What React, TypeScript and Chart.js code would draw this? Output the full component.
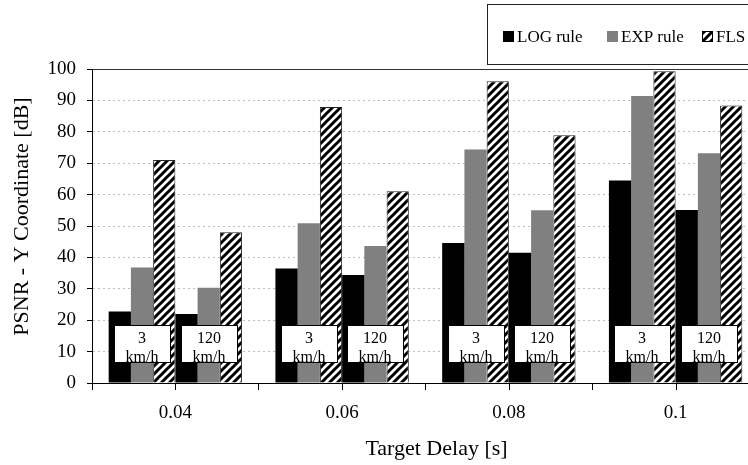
import { useEffect, useRef } from 'react';
import { Chart, registerables } from 'chart.js';

Chart.register(...registerables);

const categories = ['0.04', '0.06', '0.08', '0.1'];
const seriesNames = ['LOG rule', 'EXP rule', 'FLS'];
const speedTop = ['3', '120'];
const speedBottom = ['km/h', 'km/h'];
const logRule3 = [22.8, 36.5, 44.6, 64.5];
const expRule3 = [36.8, 50.9, 74.4, 91.4];
const fls3 = [71.0, 87.9, 96.1, 99.3];
const logRule120 = [22.0, 34.4, 41.5, 55.1];
const expRule120 = [30.3, 43.6, 55.0, 73.2];
const fls120 = [48.0, 61.1, 78.9, 88.4];
const yTitle = 'PSNR - Y Coordinate [dB]';
const xTitle = 'Target Delay [s]';

const FONT = '"Liberation Serif", "Times New Roman", serif';

function makeHatch(ctx: CanvasRenderingContext2D): CanvasPattern {
  const c = document.createElement('canvas');
  c.width = 8;
  c.height = 8;
  const g = c.getContext('2d')!;
  g.fillStyle = '#fff';
  g.fillRect(0, 0, 8, 8);
  g.strokeStyle = '#000';
  g.lineWidth = 3;
  g.beginPath();
  g.moveTo(-2, 2); g.lineTo(2, -2);
  g.moveTo(-2, 10); g.lineTo(10, -2);
  g.moveTo(6, 10); g.lineTo(10, 6);
  g.stroke();
  return ctx.createPattern(c, 'repeat')!;
}

const legendPlugin = {
  id: 'boxLegend',
  afterDraw(chart: any) {
    const ctx = chart.ctx as CanvasRenderingContext2D;
    ctx.save();
    ctx.strokeStyle = '#222';
    ctx.lineWidth = 1;
    ctx.strokeRect(487.5, 4.5, 320, 60);
    ctx.font = '17px ' + FONT;
    ctx.textBaseline = 'middle';
    ctx.textAlign = 'left';
    const markers = [503, 607, 702];
    const y = 36.5;
    for (let i = 0; i < 3; i++) {
      const x = markers[i];
      const ds = chart.data.datasets[i];
      ctx.fillStyle = ds.backgroundColor;
      ctx.fillRect(x, y - 5.5, 11, 11);
      if (i === 2) {
        ctx.strokeStyle = '#000';
        ctx.strokeRect(x + 0.5, y - 5, 10, 10);
      }
      ctx.fillStyle = '#000';
      ctx.fillText(seriesNames[i], x + 14, y + 1);
    }
    ctx.restore();
  },
};

const titlesPlugin = {
  id: 'axisTitles',
  afterDraw(chart: any) {
    const ctx = chart.ctx as CanvasRenderingContext2D;
    ctx.save();
    ctx.font = '22px ' + FONT;
    ctx.fillStyle = '#000';
    ctx.textAlign = 'center';
    ctx.textBaseline = 'middle';
    ctx.fillText(xTitle, 436.5, 449);
    ctx.translate(22, 216.5);
    ctx.rotate(-Math.PI / 2);
    ctx.fillText(yTitle, 0, 0);
    ctx.restore();
  },
};

const annotPlugin = {
  id: 'speedBoxes',
  afterDatasetsDraw(chart: any) {
    const ctx = chart.ctx as CanvasRenderingContext2D;
    const ys = chart.scales.y;
    const top = Math.round(ys.getPixelForValue(18.6)) + 0.5;
    const bot = Math.round(ys.getPixelForValue(6.7)) + 0.5;
    ctx.save();
    ctx.font = '16px ' + FONT;
    ctx.textAlign = 'center';
    ctx.textBaseline = 'middle';
    for (let s = 0; s < 2; s++) {
      const meta = chart.getDatasetMeta(s * 3 + 1);
      meta.data.forEach((bar: any) => {
        const cx = Math.round(bar.x);
        const w = 56;
        ctx.fillStyle = '#fff';
        ctx.fillRect(cx - w / 2, top, w, bot - top);
        ctx.fillStyle = '#000';
        ctx.fillText(speedTop[s], cx, top + 13);
        ctx.fillText(speedBottom[s], cx, top + 32);
        ctx.strokeStyle = '#000';
        ctx.lineWidth = 1;
        ctx.strokeRect(cx - w / 2 + 0.5, top, w, bot - top);
      });
    }
    ctx.restore();
  },
};

const centerTicks = {
  id: 'centerTicks',
  afterDraw(chart: any) {
    const ctx = chart.ctx as CanvasRenderingContext2D;
    const xs = chart.scales.x;
    const b = chart.chartArea.bottom;
    ctx.save();
    ctx.strokeStyle = '#000';
    ctx.lineWidth = 1;
    categories.forEach((_, i) => {
      const x = Math.round(xs.getPixelForValue(i)) + 0.5;
      ctx.beginPath();
      ctx.moveTo(x, b);
      ctx.lineTo(x, b + 7);
      ctx.stroke();
    });
    ctx.restore();
  },
};

export default function App() {
  const ref = useRef<HTMLCanvasElement | null>(null);
  useEffect(() => {
    const canvas = ref.current!;
    const ctx = canvas.getContext('2d')!;
    const hatch = makeHatch(ctx);
    const black = '#000000';
    const gray = '#808080';
    const mk = (label: string, data: number[], kind: number) => ({
      label,
      data,
      backgroundColor: kind === 0 ? black : kind === 1 ? gray : hatch,
      borderColor: kind === 2 ? '#222' : 'rgba(0,0,0,0)',
      borderWidth: kind === 2 ? 1 : 0,
      categoryPercentage: 0.8,
      barPercentage: 1.0,
    });
    const chart = new Chart(canvas, {
      type: 'bar',
      data: {
        labels: categories,
        datasets: [
          mk(seriesNames[0], logRule3, 0),
          mk(seriesNames[1], expRule3, 1),
          mk(seriesNames[2], fls3, 2),
          mk(seriesNames[0] + ' ', logRule120, 0),
          mk(seriesNames[1] + ' ', expRule120, 1),
          mk(seriesNames[2] + ' ', fls120, 2),
        ] as any,
      },
      options: {
        animation: false,
        responsive: false,
        layout: { padding: { top: 69, right: 1, bottom: 0, left: 0 } },
        plugins: {
          legend: { display: false },
          tooltip: { enabled: false },
        },
        scales: {
          x: {
            offset: true,
            grid: {
              offset: true,
              drawOnChartArea: false,
              drawTicks: true,
              tickLength: 7,
              color: '#000',
            },
            border: { display: true, color: '#000', width: 1 },
            ticks: {
              color: '#000',
              font: { family: FONT, size: 19 },
              padding: 12,
            },
            title: { display: false, text: xTitle },
            afterFit: (s: any) => { s.height = 82; },
          },
          y: {
            min: 0,
            max: 100,
            ticks: {
              stepSize: 10,
              color: '#000',
              font: { family: FONT, size: 19 },
              padding: 11,
            },
            grid: {
              color: (c: any) => (c.tick && (c.tick.value === 100 || c.tick.value === 0) ? '#333' : '#bdbdbd'),
              tickColor: '#000',
              tickLength: 5,
              tickBorderDash: [],
              drawTicks: true,
            },
            border: {
              display: true,
              color: '#000',
              width: 1,
              dash: (c: any) => (c.tick && c.tick.value !== 100 && c.tick.value !== 0 ? [2, 3] : []),
            } as any,
            title: { display: false, text: yTitle },
            afterFit: (s: any) => { s.width = 92; },
          },
        },
      },
      plugins: [annotPlugin, centerTicks, legendPlugin, titlesPlugin],
    });
    return () => chart.destroy();
  }, []);
  return (
    <div style={{ position: 'fixed', left: 0, top: 0, width: 748, height: 465, overflow: 'hidden', background: '#fff' }}>
      <canvas ref={ref} width={760} height={465} style={{ display: 'block' }} />
    </div>
  );
}
